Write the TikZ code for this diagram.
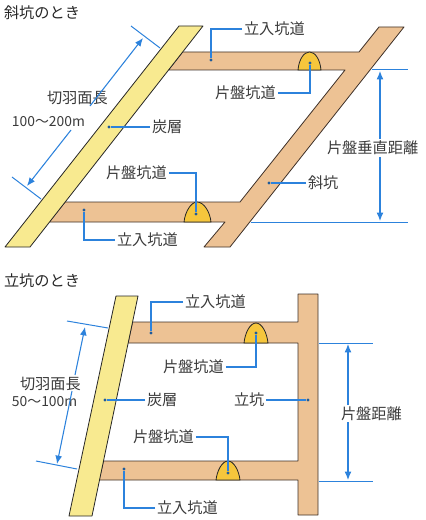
\documentclass[tikz,border=0pt]{standalone}
\usepackage{fontspec}
\setmainfont{Noto Sans CJK JP}
\usepackage{xcolor}
\usetikzlibrary{arrows.meta,positioning,calc}
\definecolor{DriftTan}{HTML}{EDC294}
\definecolor{SeamYellow}{HTML}{F8EA90}
\definecolor{ArchGold}{HTML}{F6C63C}
\definecolor{LeadBlue}{HTML}{2C82DC}
\definecolor{EdgeBrown}{HTML}{3E3028}
\definecolor{TagGrey}{HTML}{3A3A3A}
\tikzset{
  mine/drift/.style={draw=EdgeBrown, fill=DriftTan, line width=0.6pt, line join=round},
  mine/seam/.style={draw=black!85, fill=SeamYellow, line width=0.6pt, line join=round},
  mine/arch/.style={draw=black!85, fill=ArchGold, line width=0.6pt},
  mine/tag/.style={font=\fontsize{11.4}{12}\selectfont, text=TagGrey, inner sep=0pt, outer sep=0pt, anchor=west},
  mine/title/.style={mine/tag, text=black!85},
  mine/dot/.style={circle, fill=LeadBlue!70!black, inner sep=0pt, minimum size=2.4pt},
  mine/leader/.style={draw=LeadBlue, line width=0.8pt, shorten <=1.5pt},
  mine/ext/.style={draw=LeadBlue, line width=0.75pt},
  mine/dim/.style={draw=LeadBlue, line width=0.8pt, -{Latex[length=2.2mm,width=1.8mm]}}
}
\begin{document}
\begin{tikzpicture}[x=0.75pt, y=-0.75pt]
\useasboundingbox (0,0) rectangle (425,520);
\node[mine/title] (titleA) at (4,13) {斜坑のとき};
\draw[mine/drift] (182.6,52) -- (359,52) -- (379,27) -- (404,27) -- (230,247) -- (204,247) -- (225,222) -- (49,222) -- (65,202) -- (240,202) -- (345,70) -- (168.5,70) -- cycle;
\draw[mine/seam] (179,26) -- (203,26) -- (30,247) -- (5,247) -- cycle;
\draw[mine/arch] (298,70) .. controls (299,59) and (304,52) .. (309.5,52) .. controls (315,52) and (320,59) .. (321,70) -- cycle;
\draw[mine/arch] (184,222) .. controls (185,212) and (191,202) .. (197,202) .. controls (204,202) and (210,212) .. (211,222) -- cycle;
\node[mine/dot] (dotTopA) at (211,60) {};
\node[mine/dot] (dotArchA) at (310,63) {};
\node[mine/dot] (dotSeamA) at (109,127) {};
\node[mine/dot] (dotArchB) at (196,214) {};
\node[mine/dot] (dotLowA) at (84,210) {};
\node[mine/dot] (dotIncl) at (269,183) {};
\node[mine/tag] (tagTopA) at (244,29) {立入坑道};
\node[mine/tag] (tagArchA) at (215,93) {片盤坑道};
\node[mine/tag] (tagSeamA) at (152,127) {炭層};
\node[mine/tag] (tagFaceA) at (47,98) {切羽面長};
\node[mine/tag, font=\fontsize{10.4}{12}\selectfont] (tagLenA) at (12,122) {100〜200m};
\node[mine/tag] (tagArchB) at (106,173) {片盤坑道};
\node[mine/tag] (tagLowA) at (117,240) {立入坑道};
\node[mine/tag] (tagIncl) at (308,183) {斜坑};
\node[mine/tag] (tagVert) at (327,148) {片盤垂直距離};
\draw[mine/leader] (tagTopA.west) -| (dotTopA);
\draw[mine/leader] (tagArchA.east) -| (dotArchA);
\draw[mine/leader] (tagSeamA.west) -- (dotSeamA);
\draw[mine/leader] (tagArchB.east) -| (dotArchB);
\draw[mine/leader] (tagLowA.west) -| (dotLowA);
\draw[mine/leader] (tagIncl.west) -- (dotIncl);
\coordinate (tickAa) at (131,26);
\coordinate (tickAb) at (160,48);
\coordinate (tickBa) at (12,177);
\coordinate (tickBb) at (41,199);
\draw[mine/ext] (tickAa) -- (tickAb);
\draw[mine/ext] (tickBa) -- (tickBb);
\coordinate (faceAtop) at (143,38);
\coordinate (faceAgapa) at (90,106);
\coordinate (faceAgapb) at (71,130);
\coordinate (faceAlow) at (27,186);
\draw[mine/dim] (faceAgapa) -- (faceAtop);
\draw[mine/dim] (faceAgapb) -- (faceAlow);
\coordinate (extAa) at (372,70);
\coordinate (extAb) at (408,70);
\coordinate (extBa) at (251,222);
\coordinate (extBb) at (408,222);
\draw[mine/ext] (extAa) -- (extAb);
\draw[mine/ext] (extBa) -- (extBb);
\coordinate (vertTop) at (380,71);
\coordinate (vertGapa) at (380,139);
\coordinate (vertGapb) at (380,157);
\coordinate (vertLow) at (380,221);
\draw[mine/dim] (vertGapa) -- (vertTop);
\draw[mine/dim] (vertGapb) -- (vertLow);
\node[mine/title] (titleB) at (4,281) {立坑のとき};
\draw[mine/drift] (132.6,322) -- (298,322) -- (298,294) -- (318,294) -- (318,515) -- (298,515) -- (298,480) -- (99,480) -- (103.5,461) -- (298,461) -- (298,343) -- (128,343) -- cycle;
\draw[mine/seam] (116,296) -- (138,296) -- (92,516) -- (69,516) -- cycle;
\draw[mine/arch] (244,343) .. controls (245,333) and (250,323) .. (256,323) .. controls (262,323) and (267,333) .. (268,343) -- cycle;
\draw[mine/arch] (216,480) .. controls (217,471) and (222,461) .. (228,461) .. controls (234,461) and (239,471) .. (240,480) -- cycle;
\node[mine/dot] (dotTopB) at (151,333) {};
\node[mine/dot] (dotArchC) at (256,333) {};
\node[mine/dot] (dotSeamB) at (105,400) {};
\node[mine/dot] (dotArchD) at (228,473) {};
\node[mine/dot] (dotLowB) at (124,469) {};
\node[mine/dot] (dotShaft) at (308,400) {};
\node[mine/tag] (tagTopB) at (185,302) {立入坑道};
\node[mine/tag] (tagArchC) at (163,367) {片盤坑道};
\node[mine/tag] (tagSeamB) at (147,400) {炭層};
\node[mine/tag] (tagFaceB) at (20,384) {切羽面長};
\node[mine/tag, font=\fontsize{10.4}{12}\selectfont] (tagLenB) at (12,402) {50〜100m};
\node[mine/tag] (tagArchD) at (133,437) {片盤坑道};
\node[mine/tag] (tagLowB) at (157,508) {立入坑道};
\node[mine/tag] (tagShaft) at (234,400) {立坑};
\node[mine/tag] (tagDist) at (341,414) {片盤距離};
\draw[mine/leader] (tagTopB.west) -| (dotTopB);
\draw[mine/leader] (tagArchC.east) -| (dotArchC);
\draw[mine/leader] (tagSeamB.west) -- (dotSeamB);
\draw[mine/leader] (tagArchD.east) -| (dotArchD);
\draw[mine/leader] (tagLowB.west) -| (dotLowB);
\draw[mine/leader] (tagShaft.east) -- (dotShaft);
\coordinate (tickCa) at (67,321);
\coordinate (tickCb) at (108,328);
\coordinate (tickDa) at (36,461);
\coordinate (tickDb) at (77,469);
\draw[mine/ext] (tickCa) -- (tickCb);
\draw[mine/ext] (tickDa) -- (tickDb);
\coordinate (faceBtop) at (85,327);
\coordinate (faceBgapa) at (75,375);
\coordinate (faceBgapb) at (72,391);
\coordinate (faceBlow) at (57,464);
\draw[mine/dim] (faceBgapa) -- (faceBtop);
\draw[mine/dim] (faceBgapb) -- (faceBlow);
\coordinate (extCa) at (319,343);
\coordinate (extCb) at (373,343);
\coordinate (extDa) at (319,481);
\coordinate (extDb) at (373,481);
\draw[mine/ext] (extCa) -- (extCb);
\draw[mine/ext] (extDa) -- (extDb);
\coordinate (distTop) at (348,344);
\coordinate (distGapa) at (348,405);
\coordinate (distGapb) at (348,422);
\coordinate (distLow) at (348,480);
\draw[mine/dim] (distGapa) -- (distTop);
\draw[mine/dim] (distGapb) -- (distLow);
\end{tikzpicture}
\end{document}
